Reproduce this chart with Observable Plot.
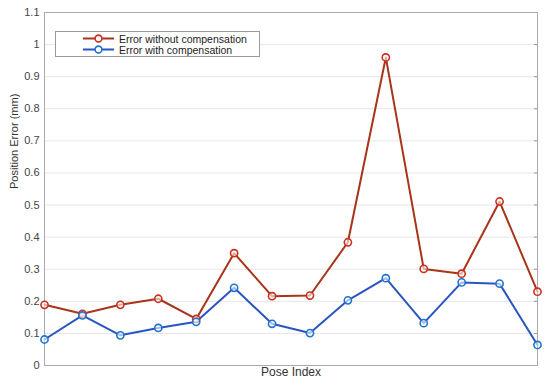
<!DOCTYPE html>
<html>
<head>
<meta charset="utf-8">
<script src="https://cdn.jsdelivr.net/npm/d3@7"></script>
<script src="https://cdn.jsdelivr.net/npm/@observablehq/plot@0.6"></script>
<style>
  html, body { margin: 0; padding: 0; background: #fff; }
  #wrap { position: relative; width: 550px; height: 387px; font-family: "Liberation Sans", Arial, sans-serif; }
  #legend { position: absolute; left: 55px; top: 31px; width: 203px; height: 24px; background: #fff; border: 1px solid #999; font-size: 10.5px; color: #222; }
  #legend .row { position: absolute; left: 26px; height: 11px; display: flex; align-items: center; }
  #legend svg { margin-right: 3px; }
</style>
</head>
<body>
<div id="wrap"></div>
<script>
const poseIndex = [1,2,3,4,5,6,7,8,9,10,11,12,13,14];
const errorWithout = [0.189,0.161,0.189,0.208,0.145,0.350,0.216,0.218,0.384,0.960,0.301,0.286,0.511,0.230];
const errorWith = [0.081,0.156,0.094,0.117,0.136,0.242,0.130,0.101,0.203,0.272,0.132,0.259,0.255,0.064];
const yTicks = [0,0.1,0.2,0.3,0.4,0.5,0.6,0.7,0.8,0.9,1,1.1];
const seriesNames = ["Error without compensation","Error with compensation"];
const lineColors = ["#a8341a","#2a55bf"];
const markerColors = ["#cc3020","#1f74d0"];

const dWithout = poseIndex.map((p,i)=>({x:p, y:errorWithout[i]}));
const dWith = poseIndex.map((p,i)=>({x:p, y:errorWith[i]}));

const chart = Plot.plot({
  width: 550,
  height: 387,
  marginLeft: 44,
  marginRight: 13,
  marginTop: 12,
  marginBottom: 22,
  style: {fontFamily: "Liberation Sans, Arial, sans-serif", fontSize: "11px", color: "#444", background: "#fff"},
  x: {domain: [1,14], axis: null},
  y: {domain: [0,1.1], axis: null},
  marks: [
    Plot.gridY(yTicks, {stroke: "#e6e6e6", strokeOpacity: 1}),
    Plot.axisY(yTicks, {tickSize: 0, tickPadding: 5, tickFormat: d => String(+d.toFixed(1)), label: null, fill: "#444"}),
    Plot.axisY(yTicks, {anchor: "right", tickSize: -4, tickFormat: () => "", label: null, stroke: "#999"}),
    Plot.frame({stroke: "#aaa"}),
    Plot.line(dWithout, {x: "x", y: "y", stroke: lineColors[0], strokeWidth: 2}),
    Plot.line(dWith, {x: "x", y: "y", stroke: lineColors[1], strokeWidth: 2}),
    Plot.dot(dWithout, {x: "x", y: "y", r: 3.6, stroke: markerColors[0], fill: "#fff", fillOpacity: 0.6, strokeWidth: 1.6}),
    Plot.dot(dWith, {x: "x", y: "y", r: 3.6, stroke: markerColors[1], fill: "#fff", fillOpacity: 0.6, strokeWidth: 1.6}),
    Plot.text(["Pose Index"], {frameAnchor: "bottom", dy: 10, fontSize: 12, fill: "#333"}),
    Plot.text(["Position Error (mm)"], {frameAnchor: "left", rotate: -90, dx: -30, fontSize: 11, fill: "#333"})
  ]
});

const wrap = document.getElementById("wrap");
wrap.appendChild(chart);

const legend = document.createElement("div");
legend.id = "legend";
seriesNames.forEach((name, i) => {
  const row = document.createElement("div");
  row.className = "row";
  row.style.top = (1 + i*11) + "px";
  row.innerHTML = `<svg width="34" height="11"><line x1="1" x2="32" y1="5.5" y2="5.5" stroke="${lineColors[i]}" stroke-width="2"/><circle cx="16.5" cy="5.5" r="3.4" fill="#fff" stroke="${markerColors[i]}" stroke-width="1.6"/></svg><span>${name}</span>`;
  legend.appendChild(row);
});
wrap.appendChild(legend);
</script>
</body>
</html>
